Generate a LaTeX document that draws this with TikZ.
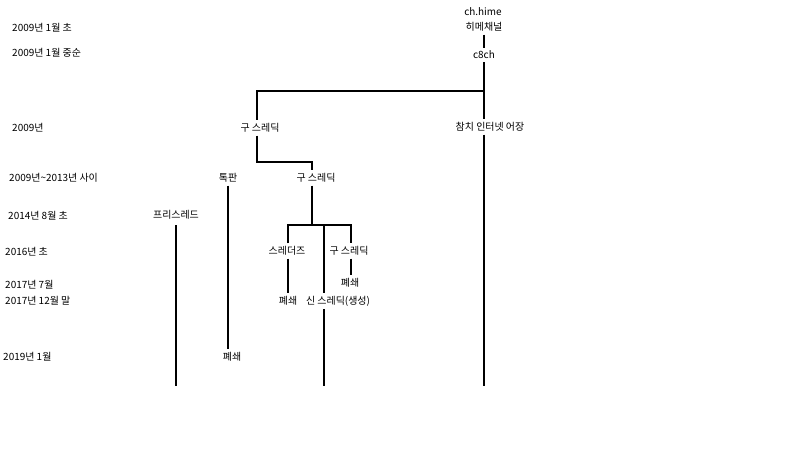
\documentclass[tikz,border=0pt]{standalone}
\usepackage{fontspec}
\setmainfont{Noto Sans CJK KR}
\begin{document}
\begin{tikzpicture}[x=0.03cm,y=-0.03cm,
  lbl/.style={font=\fontsize{8.5}{10}\selectfont,inner sep=2.5pt},
  date/.style={lbl,anchor=west,inner sep=0pt},
  branch/.style={line width=2.5pt}]
\useasboundingbox (0,0) rectangle (800,450);

% dates
\node[date] (d1) at (12,28) {2009년 1월 초};
\node[date] (d2) at (12,53) {2009년 1월 중순};
\node[date] (d3) at (12,128) {2009년};
\node[date] (d4) at (9,178) {2009년\textasciitilde2013년 사이};
\node[date] (d5) at (8,216) {2014년 8월 초};
\node[date] (d6) at (5,252) {2016년 초};
\node[date] (d7) at (5,285) {2017년 7월};
\node[date] (d8) at (5,301) {2017년 12월 말};
\node[date] (d9) at (3,357) {2019년 1월};

% boards
\node[lbl] (hime) at (483,12) {ch.hime};
\node[lbl] (himech) at (484,27) {히메채널};
\node[lbl] (c8ch) at (484,55) {c8ch};
\node[lbl] (chamchi) at (490,127) {참치 인터넷 어장};
\node[lbl] (gu1) at (260,128) {구 스레딕};
\node[lbl] (tokpan) at (228,178) {톡판};
\node[lbl] (gu2) at (316,178) {구 스레딕};
\node[lbl] (free) at (176,215) {프리스레드};
\node[lbl] (threaders) at (287,251) {스레더즈};
\node[lbl] (gu3) at (349,251) {구 스레딕};
\node[lbl] (close2) at (350,283) {폐쇄};
\node[lbl] (close1) at (288,301) {폐쇄};
\node[lbl] (shin) at (338,301) {신 스레딕(생성)};
\node[lbl] (close3) at (232,357) {폐쇄};

\coordinate (top) at (484,91);
\coordinate (left) at (257,91);
\coordinate (bend) at (257,162);
\coordinate (bendr) at (312,162);
\coordinate (fork) at (312,225);
\coordinate (forkl) at (288,225);
\coordinate (forkm) at (324,225);
\coordinate (forkr) at (351,225);
\coordinate (endc) at (484,386);
\coordinate (endm) at (324,386);
\coordinate (endf) at (176,386);

% lines
\draw[branch] (himech.south) -- (c8ch.north);
\draw[branch] (c8ch.south) -- (top) -- (top |- chamchi.north);
\draw[branch] (top |- chamchi.south) -- (endc);
\draw[branch] (top) -- (left) -- (left |- gu1.north);
\draw[branch] (left |- gu1.south) -- (bend) -- (bendr) -- (bendr |- gu2.north);
\draw[branch] (bendr |- gu2.south) -- (fork);
\draw[branch] (forkl |- threaders.north) -- (forkl) -- (forkr) -- (forkr |- gu3.north);
\draw[branch] (forkm) -- (forkm |- shin.north);
\draw[branch] (forkm |- shin.south) -- (endm);
\draw[branch] (forkl |- threaders.south) -- (forkl |- close1.north);
\draw[branch] (forkr |- gu3.south) -- (forkr |- close2.north);
\draw[branch] (tokpan.south) -- (tokpan.south |- close3.north);
\draw[branch] ([yshift=-2pt]free.south) -- (endf);
\end{tikzpicture}
\end{document}
